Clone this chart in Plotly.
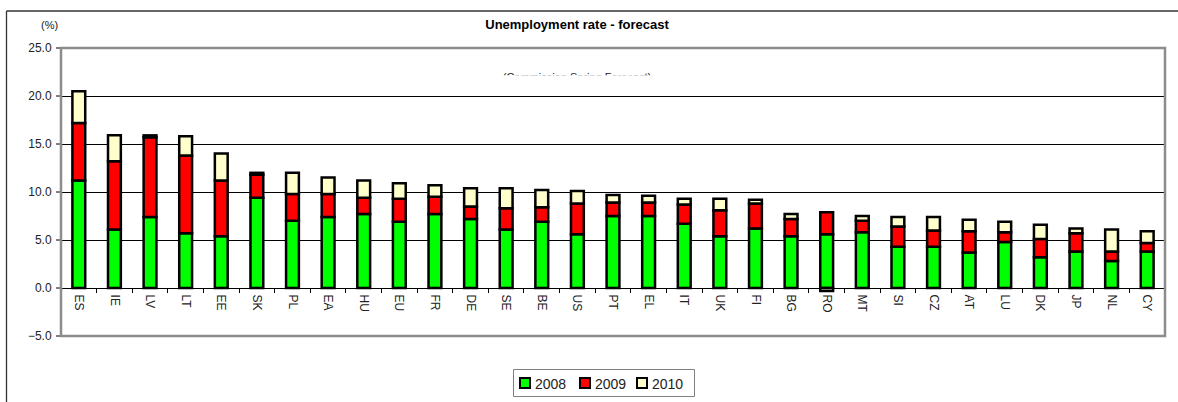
import plotly.graph_objects as go

countries = ["ES", "IE", "LV", "LT", "EE", "SK", "PL", "EA", "HU", "EU", "FR", "DE", "SE", "BE", "US",
             "PT", "EL", "IT", "UK", "FI", "BG", "RO", "MT", "SI", "CZ", "AT", "LU", "DK", "JP", "NL", "CY"]

# stacked segments as drawn: 2008 level, change 2008->2009, change 2009->2010
seg_2008 = [11.2, 6.1, 7.4, 5.7, 5.4, 9.4, 7.0, 7.4, 7.7, 6.9, 7.7, 7.2, 6.1, 6.9, 5.6,
            7.5, 7.5, 6.7, 5.4, 6.2, 5.4, 5.6, 5.8, 4.3, 4.3, 3.7, 4.8, 3.2, 3.8, 2.8, 3.8]
seg_2009 = [6.0, 7.1, 8.3, 8.1, 5.8, 2.4, 2.8, 2.4, 1.7, 2.4, 1.8, 1.3, 2.2, 1.5, 3.2,
            1.4, 1.4, 2.0, 2.7, 2.6, 1.8, 2.3, 1.2, 2.1, 1.7, 2.2, 1.0, 1.9, 1.9, 1.0, 0.9]
seg_2010 = [3.3, 2.7, 0.2, 2.0, 2.8, 0.2, 2.2, 1.7, 1.8, 1.6, 1.2, 1.9, 2.1, 1.8, 1.3,
            0.8, 0.7, 0.6, 1.2, 0.4, 0.5, -0.3, 0.5, 1.0, 1.4, 1.2, 1.1, 1.5, 0.5, 2.3, 1.2]

series_names = ["2008", "2009", "2010"]
series_colors = ["#00FF00", "#FF0000", "#FFFFCC"]
y_ticks = [-5, 0, 5, 10, 15, 20, 25]

FONT = "Arial, 'Liberation Sans', sans-serif"

# figure geometry (pixels)
W, H = 1178, 402
L, R, T, B = 61, 1165, 48, 336


def px_x(p):
    return (p - L) / (R - L)


def px_y(p):
    return (B - p) / (B - T)


fig = go.Figure()
for name, vals, col in zip(series_names, [seg_2008, seg_2009, seg_2010], series_colors):
    fig.add_trace(go.Bar(
        x=countries, y=vals, name=name, width=0.36, showlegend=False,
        marker=dict(color=col, line=dict(color="black", width=2.5)),
    ))

# subtitle, mostly hidden in the original (only the top of the letters shows)
fig.add_trace(go.Scatter(
    x=[577], y=[78.5], text=["(Commission Spring Forecast)"], mode="text",
    textfont=dict(family=FONT, size=11, color="#222222"),
    xaxis="x2", yaxis="y2", showlegend=False, hoverinfo="skip", cliponaxis=False,
))

shapes = [
    # white mask hiding the lower part of the subtitle
    dict(type="rect", xref="paper", yref="paper", x0=px_x(470), x1=px_x(690),
         y0=px_y(90), y1=px_y(75.3), line=dict(width=0), fillcolor="white", layer="above"),
    # plot area border
    dict(type="rect", xref="paper", yref="paper", x0=0, x1=1, y0=0, y1=1,
         line=dict(color="#8c8c8c", width=2.5), layer="above"),
    # outer chart frame (left and top edges)
    dict(type="line", xref="paper", yref="paper", x0=px_x(6.5), x1=px_x(6.5), y0=px_y(410), y1=px_y(11),
         line=dict(color="#333333", width=1.3)),
    dict(type="line", xref="paper", yref="paper", x0=px_x(6.5), x1=px_x(1185), y0=px_y(11), y1=px_y(11),
         line=dict(color="#333333", width=1.3)),
    # legend box
    dict(type="rect", xref="paper", yref="paper", x0=px_x(513.5), x1=px_x(694.5),
         y0=px_y(396.5), y1=px_y(369.5), line=dict(color="#808080", width=1), fillcolor="white"),
]
annotations = [
    dict(text="(%)", xref="paper", yref="paper", x=px_x(49), y=px_y(25),
         showarrow=False, xanchor="center", yanchor="middle",
         font=dict(family=FONT, size=11, color="#222222")),
]

# legend entries
legend_x = [519, 579, 636]
for name, col, lx in zip(series_names, series_colors, legend_x):
    shapes.append(dict(type="rect", xref="paper", yref="paper", x0=px_x(lx + 1), x1=px_x(lx + 11),
                       y0=px_y(388), y1=px_y(378), line=dict(color="black", width=2), fillcolor=col))
    annotations.append(dict(text=name, xref="paper", yref="paper", x=px_x(lx + 14), y=px_y(383.5),
                            showarrow=False, xanchor="left", yanchor="middle",
                            font=dict(family=FONT, size=14, color="#222222")))

fig.update_layout(
    width=W, height=H,
    margin=dict(l=L, r=W - R, t=T, b=H - B, autoexpand=False),
    paper_bgcolor="white", plot_bgcolor="white",
    barmode="relative", bargap=0.6, showlegend=False,
    font=dict(family=FONT, size=12, color="#222222"),
    title=dict(text="<b>Unemployment rate - forecast</b>", x=577 / W, xanchor="center",
               y=1 - 24 / H, yanchor="middle", font=dict(family=FONT, size=13, color="black")),
    xaxis=dict(
        type="category", anchor="free", position=1 / 6,
        showline=True, linecolor="black", linewidth=1.3,
        ticks="outside", tickson="boundaries", ticklen=4, tickcolor="black", tickwidth=1,
        tickangle=90, tickfont=dict(family=FONT, size=12, color="#222222"),
        ticklabelstandoff=3,
        showgrid=False, range=[-0.5, 30.5],
    ),
    yaxis=dict(
        range=[-5, 25], tickvals=y_ticks, tickformat=".1f",
        showgrid=True, gridcolor="black", gridwidth=1,
        zeroline=False, showline=False,
        ticks="outside", ticklen=4, tickcolor="#808080", tickwidth=1.5,
        tickfont=dict(family=FONT, size=12, color="#222222"),
        ticklabelstandoff=2,
    ),
    xaxis2=dict(domain=[0, 1], range=[L, R], visible=False, anchor="y2", overlaying="x"),
    yaxis2=dict(domain=[0, 1], range=[B, T], visible=False, anchor="x2", overlaying="y"),
    shapes=shapes,
    annotations=annotations,
)

fig.write_html("out.html")
